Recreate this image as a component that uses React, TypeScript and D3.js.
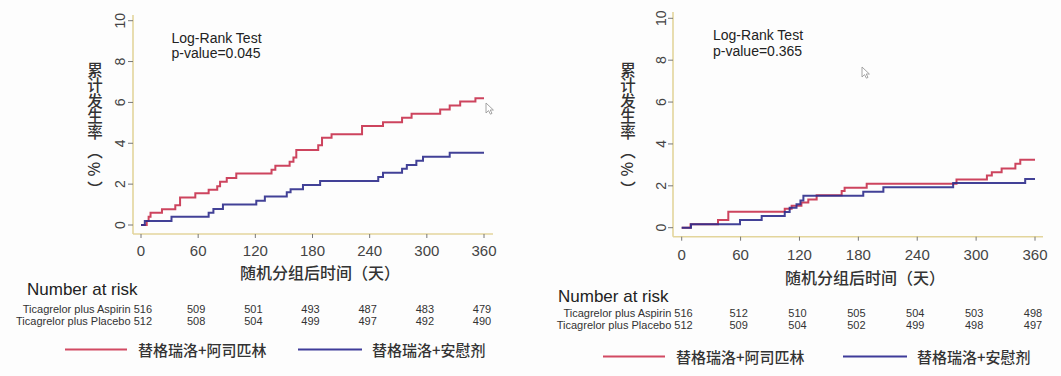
import React from "react";
import * as d3 from "d3";

// ---------- data ----------
const timeTicks = [0, 60, 120, 180, 240, 300, 360];
const yTicks = [0, 2, 4, 6, 8, 10];

// Left panel (step change points: [day, cumulative %])
const leftAspirin: [number, number][] = [
  [0, 0], [6, 0.2], [8, 0.4], [10, 0.6], [22, 0.77], [36, 0.97], [41, 1.35], [57, 1.55],
  [71, 1.72], [80, 1.9], [83, 2.12], [90, 2.3], [100, 2.52], [137, 2.7], [141, 2.9],
  [156, 3.1], [160, 3.3], [163, 3.67], [186, 3.9], [190, 4.27], [200, 4.44], [232, 4.85],
  [254, 5.03], [274, 5.25], [284, 5.44], [314, 5.65], [324, 5.85], [335, 6.05], [351, 6.2], [360, 6.2],
];
const leftPlacebo: [number, number][] = [
  [0, 0], [4, 0.2], [32, 0.4], [71, 0.6], [76, 0.78], [86, 1.0], [121, 1.19], [130, 1.39],
  [153, 1.6], [157, 1.75], [170, 1.96], [188, 2.15], [249, 2.35], [254, 2.56], [274, 2.75],
  [279, 2.94], [289, 3.15], [296, 3.34], [324, 3.54], [360, 3.54],
];
// Right panel
const rightAspirin: [number, number][] = [
  [0, 0], [9, 0.17], [37, 0.37], [47.5, 0.76], [105, 0.9], [112, 1.05], [122, 1.2], [129, 1.35],
  [137.5, 1.55], [163, 1.75], [166, 1.91], [188.5, 2.1], [280, 2.3], [311, 2.49], [316, 2.65],
  [326, 2.83], [340, 3.05], [345, 3.25], [360, 3.25],
];
const rightPlacebo: [number, number][] = [
  [0, 0], [9.5, 0.17], [59.4, 0.37], [81.5, 0.56], [105, 0.75], [110, 0.95], [117, 1.12],
  [121, 1.3], [124, 1.53], [185, 1.72], [205.5, 1.93], [276.6, 2.13], [350, 2.33], [360, 2.33],
];

const leftPValue = "p-value=0.045";
const rightPValue = "p-value=0.365";

const riskLabels = ["Ticagrelor plus Aspirin", "Ticagrelor plus Placebo"];
const leftRiskAspirin = [516, 509, 501, 493, 487, 483, 479];
const leftRiskPlacebo = [512, 508, 504, 499, 497, 492, 490];
const rightRiskAspirin = [516, 512, 510, 505, 504, 503, 498];
const rightRiskPlacebo = [512, 509, 504, 502, 499, 498, 497];

const legendLabels = ["替格瑞洛+阿司匹林", "替格瑞洛+安慰剂"];
const yTitleMain = "累计发生率";
const yTitleUnit = ["（", "%", "）"];
const xTitle = "随机分组后时间（天）";

// ---------- styles ----------
const RED = "#c8304c";
const BLUE = "#2e2c8c";
const AXIS = "#e3d59c";
const LATIN = "'Liberation Sans', Arial, sans-serif";
const CJK = "'Noto Sans CJK SC', sans-serif";

type PanelCfg = {
  x0: number; x1: number; yBottom: number; yTop: number;
  axisX: number; axisY: number; axisTop: number; axisRight: number;
  red: [number, number][]; blue: [number, number][];
  pval: string; textX: number; textY: number;
  yTitleX: number; xTitleX: number; xTitleY: number;
  nearX: number; nearY: number; row1Y: number; row2Y: number;
  riskA: number[]; riskB: number[];
  legY: number; leg1: number; leg2: number; tickLabelY: number; yLabelX: number;
  cursor: [number, number];
};

const Panel = ({ c }: { c: PanelCfg }) => {
  const x = d3.scaleLinear().domain([0, 360]).range([c.x0, c.x1]);
  const y = d3.scaleLinear().domain([0, 10]).range([c.yBottom, c.yTop]);
  const line = d3
    .line<[number, number]>()
    .x((d) => x(d[0]))
    .y((d) => y(d[1]))
    .curve(d3.curveStepAfter);
  return (
    <g>
      {/* axes */}
      <line x1={c.axisX} x2={c.axisX} y1={c.axisTop} y2={c.axisY} stroke={AXIS} strokeWidth={1.6} />
      <line x1={c.axisX} x2={c.axisRight} y1={c.axisY} y2={c.axisY} stroke={AXIS} strokeWidth={1.6} />
      {yTicks.map((t) => (
        <g key={"y" + t}>
          <line x1={c.axisX - 5} x2={c.axisX} y1={y(t)} y2={y(t)} stroke="#777" strokeWidth={1} />
          <text
            transform={`translate(${c.yLabelX},${y(t)}) rotate(-90)`}
            textAnchor="middle"
            fontFamily={LATIN}
            fontSize={14}
            fill="#444"
          >
            {t}
          </text>
        </g>
      ))}
      {timeTicks.map((t) => (
        <g key={"x" + t}>
          <line x1={x(t)} x2={x(t)} y1={c.axisY} y2={c.axisY + 4} stroke="#777" strokeWidth={1} />
          <text x={x(t)} y={c.tickLabelY} textAnchor="middle" fontFamily={LATIN} fontSize={15} fill="#444">
            {t}
          </text>
        </g>
      ))}
      {/* curves */}
      <path d={line(c.red) || ""} fill="none" stroke={RED} strokeWidth={2} opacity={0.9} />
      <path d={line(c.blue) || ""} fill="none" stroke={BLUE} strokeWidth={2} opacity={0.9} />
      {/* log-rank */}
      <text x={c.textX} y={c.textY} fontFamily={LATIN} fontSize={14} fill="#222">
        Log-Rank Test
      </text>
      <text x={c.textX} y={c.textY + 15.5} fontFamily={LATIN} fontSize={14} fill="#222">
        {c.pval}
      </text>
      {/* y title, one vertical text */}
      <text
        x={c.yTitleX}
        y={62}
        fontFamily={CJK}
        fontSize={15.5}
        fontWeight={500}
        fill="#333"
        style={{ writingMode: "vertical-rl" as any }}
      >
        {yTitleMain}
        <tspan dy={3}>{yTitleUnit[0]}</tspan>
        <tspan dy={4}>{yTitleUnit[1]}</tspan>
        <tspan dy={4}>{yTitleUnit[2]}</tspan>
      </text>
      {/* x title */}
      <text x={c.xTitleX} y={c.xTitleY} textAnchor="middle" fontFamily={CJK} fontSize={16} fontWeight={500} fill="#333">
        {xTitle}
      </text>
      {/* number at risk */}
      <text x={c.nearX} y={c.nearY} fontFamily={LATIN} fontSize={17} fill="#222">
        Number at risk
      </text>
      {[c.riskA, c.riskB].map((row, ri) => (
        <g key={"r" + ri}>
          <text
            x={x(0) + 11}
            y={ri === 0 ? c.row1Y : c.row2Y}
            textAnchor="end"
            fontFamily={LATIN}
            fontSize={11}
            fill="#333"
          >
            {riskLabels[ri] + " " + row[0]}
          </text>
          {row.slice(1).map((v, i) => (
            <text
              key={i}
              x={x(timeTicks[i + 1]) - 2}
              y={ri === 0 ? c.row1Y : c.row2Y}
              textAnchor="middle"
              fontFamily={LATIN}
              fontSize={11}
              fill="#333"
            >
              {v}
            </text>
          ))}
        </g>
      ))}
      {/* legend */}
      <line x1={c.leg1} x2={c.leg1 + 62} y1={c.legY} y2={c.legY} stroke="#d24a63" strokeWidth={2.2} />
      <text x={c.leg1 + 73} y={c.legY + 6} fontFamily={CJK} fontSize={15} fontWeight={500} fill="#333">
        {legendLabels[0]}
      </text>
      <line x1={c.leg2} x2={c.leg2 + 64} y1={c.legY} y2={c.legY} stroke="#3f3c9a" strokeWidth={2.2} />
      <text x={c.leg2 + 74} y={c.legY + 6} fontFamily={CJK} fontSize={15} fontWeight={500} fill="#333">
        {legendLabels[1]}
      </text>
      {/* mouse cursor */}
      <path
        transform={`translate(${c.cursor[0]},${c.cursor[1]})`}
        d="M0,0 L0,10 L2.5,7.6 L4.4,11.2 L6,10.4 L4.2,7 L7.4,7 Z"
        fill="#fff"
        stroke="#9a9a9a"
        strokeWidth={0.9}
      />
    </g>
  );
};

const leftCfg: PanelCfg = {
  x0: 141, x1: 484, yBottom: 225, yTop: 20.7,
  axisX: 133, axisY: 234, axisTop: 15, axisRight: 493,
  red: leftAspirin, blue: leftPlacebo, pval: leftPValue, textX: 171.5, textY: 42.5,
  yTitleX: 95, xTitleX: 320, xTitleY: 279, nearX: 27, nearY: 295, row1Y: 312.5, row2Y: 324.5,
  riskA: leftRiskAspirin, riskB: leftRiskPlacebo, legY: 349.5, leg1: 65, leg2: 298,
  tickLabelY: 256, yLabelX: 125, cursor: [486, 103],
};
const rightCfg: PanelCfg = {
  x0: 681.7, x1: 1035, yBottom: 227.7, yTop: 18.3,
  axisX: 673, axisY: 236.7, axisTop: 12, axisRight: 1043,
  red: rightAspirin, blue: rightPlacebo, pval: rightPValue, textX: 713, textY: 40,
  yTitleX: 628, xTitleX: 865, xTitleY: 284, nearX: 558, nearY: 302, row1Y: 316.5, row2Y: 329,
  riskA: rightRiskAspirin, riskB: rightRiskPlacebo, legY: 356.5, leg1: 603, leg2: 843,
  tickLabelY: 260, yLabelX: 666, cursor: [862, 67],
};

export default function App() {
  return (
    <svg
      width={1061}
      height={376}
      style={{ position: "absolute", left: 0, top: 0, background: "#fdfdfd" }}
    >
      <rect x={0} y={0} width={1061} height={376} fill="#fdfdfd" />
      <Panel c={leftCfg} />
      <Panel c={rightCfg} />
    </svg>
  );
}
